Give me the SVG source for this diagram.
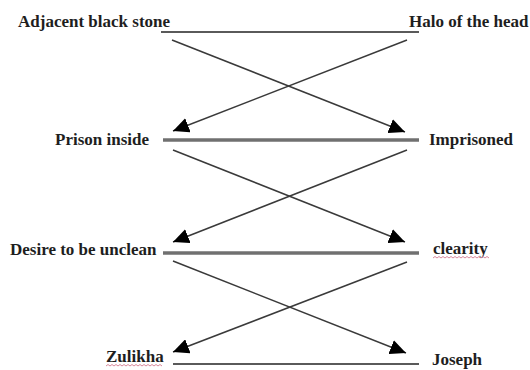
<svg xmlns="http://www.w3.org/2000/svg" width="530" height="370" viewBox="0 0 530 370">
  <style>
    .lbl { font-family: "Liberation Serif", "Times New Roman", serif; font-weight: bold; font-size: 17px; fill: #1e1e1e; }
    .rule-thin { stroke: #5a5a5a; stroke-width: 2; fill: none; }
    .rule-thick { stroke: #707070; stroke-width: 3.5; fill: none; }
    .arrow { stroke: #3a3a3a; stroke-width: 1.5; fill: none; marker-end: url(#tri); }
    .squiggle { stroke: #d9899c; stroke-width: 1; fill: none; }
  </style>
  <defs>
    <marker id="tri" markerUnits="userSpaceOnUse" markerWidth="16" markerHeight="15" refX="16" refY="7.5" orient="auto">
      <path d="M0,0 L16,7.5 L0,15 z" fill="#000"/>
    </marker>
  </defs>
  <rect width="530" height="370" fill="#fff"/>

  <g id="rules">
    <line class="rule-thin" x1="161" y1="32" x2="419" y2="32"/>
    <line class="rule-thick" x1="163" y1="140" x2="419" y2="140"/>
    <line class="rule-thick" x1="163" y1="253" x2="419" y2="253"/>
    <line class="rule-thin" x1="173" y1="364" x2="419" y2="364"/>
  </g>

  <g id="connectors">
    <line class="arrow" x1="172" y1="40" x2="405" y2="132"/>
    <line class="arrow" x1="407" y1="40" x2="173" y2="131"/>
    <line class="arrow" x1="173" y1="150" x2="405" y2="242"/>
    <line class="arrow" x1="407" y1="150" x2="173" y2="242"/>
    <line class="arrow" x1="173" y1="261" x2="406" y2="353"/>
    <line class="arrow" x1="407" y1="262" x2="173" y2="352"/>
  </g>

  <g id="adjacent-black-stone"><text class="lbl" x="18" y="27">Adjacent black stone</text></g>
  <g id="halo-of-the-head"><text class="lbl" x="409" y="27">Halo of the head</text></g>
  <g id="prison-inside"><text class="lbl" x="55" y="145">Prison inside</text></g>
  <g id="imprisoned"><text class="lbl" x="429" y="145">Imprisoned</text></g>
  <g id="desire-to-be-unclean"><text class="lbl" x="10" y="255">Desire to be unclean</text></g>
  <g id="clearity">
    <text class="lbl" x="433" y="254">clearity</text>
    <path class="squiggle" d="M433,258 l2,-1.5 l2,1.5 l2,-1.5 l2,1.5 l2,-1.5 l2,1.5 l2,-1.5 l2,1.5 l2,-1.5 l2,1.5 l2,-1.5 l2,1.5 l2,-1.5 l2,1.5 l2,-1.5 l2,1.5 l2,-1.5 l2,1.5 l2,-1.5 l2,1.5 l2,-1.5 l2,1.5 l2,-1.5 l2,1.5 l2,-1.5 l2,1.5 l2,-1.5 l2,1.5"/>
  </g>
  <g id="zulikha">
    <text class="lbl" x="106" y="362">Zulikha</text>
    <path class="squiggle" d="M106,366 l2,-1.5 l2,1.5 l2,-1.5 l2,1.5 l2,-1.5 l2,1.5 l2,-1.5 l2,1.5 l2,-1.5 l2,1.5 l2,-1.5 l2,1.5 l2,-1.5 l2,1.5 l2,-1.5 l2,1.5 l2,-1.5 l2,1.5 l2,-1.5 l2,1.5 l2,-1.5 l2,1.5 l2,-1.5 l2,1.5 l2,-1.5 l2,1.5 l2,-1.5 l2,1.5"/>
  </g>
  <g id="joseph"><text class="lbl" x="432" y="365">Joseph</text></g>
</svg>
